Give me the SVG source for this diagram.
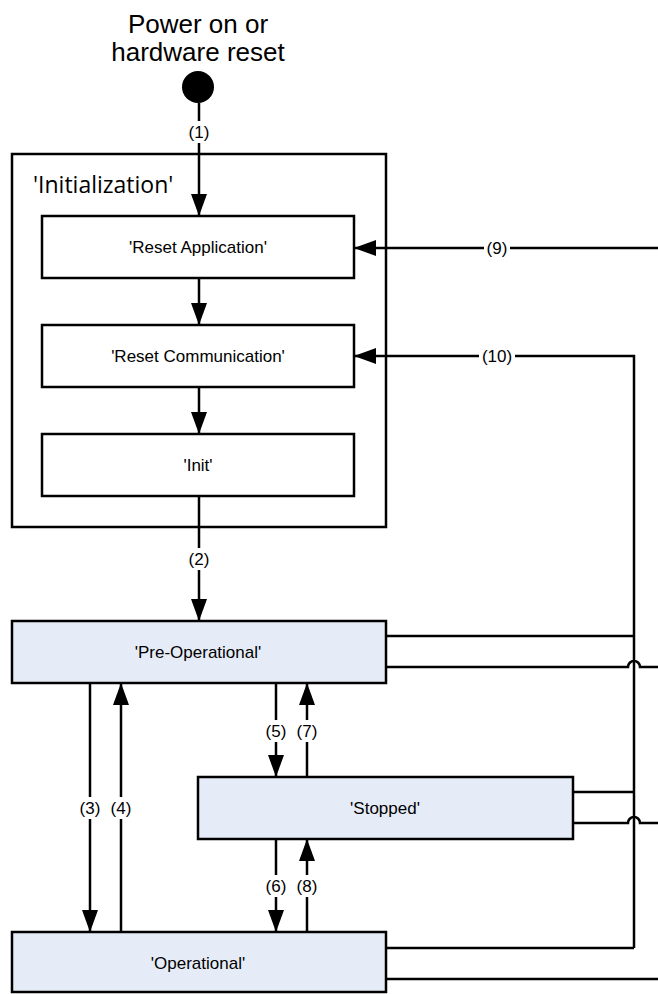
<svg xmlns="http://www.w3.org/2000/svg" width="658" height="994" viewBox="0 0 658 994">
<defs>
<marker id="ah" markerWidth="22" markerHeight="16" refX="22" refY="8" orient="auto" markerUnits="userSpaceOnUse" viewBox="0 0 22 16">
<path d="M0,0 L22,8 L0,16 Z" fill="#000"/>
</marker>
<style>
.box{fill:#fff;stroke:#000;stroke-width:2.5}
.st{fill:#e6ecf7;stroke:#000;stroke-width:2.5}
.ln{fill:none;stroke:#000;stroke-width:2.5}
.lb{font-family:"Liberation Sans",Arial,sans-serif;font-size:17px;text-anchor:middle;fill:#000}
.cl{font-family:"Liberation Sans",Arial,sans-serif;font-size:17px;text-anchor:middle;fill:#000}
.big{font-family:"Liberation Sans",Arial,sans-serif;font-size:26px;text-anchor:middle;fill:#000}
.ttl{font-family:"Open Sans",sans-serif;font-size:23px;fill:#000}
.bg{fill:#fff}
</style>
</defs>
<rect width="658" height="994" fill="#fff"/>
<g id="start">
<text class="big" x="198" y="33">Power on or</text>
<text class="big" x="198" y="61">hardware reset</text>
<circle cx="198" cy="87" r="16" fill="#000"/>
</g>
<g id="initialization">
<rect class="box" x="12" y="154" width="374" height="373"/>
<text class="ttl" x="33" y="193">'Initialization'</text>
</g>
<g id="reset-application">
<rect class="box" x="42" y="216" width="312" height="62"/>
<text class="lb" x="198" y="253">'Reset Application'</text>
</g>
<g id="reset-communication">
<rect class="box" x="42" y="325" width="312" height="62"/>
<text class="lb" x="198" y="362">'Reset Communication'</text>
</g>
<g id="init">
<rect class="box" x="42" y="434" width="312" height="62"/>
<text class="lb" x="198" y="471">'Init'</text>
</g>
<g id="pre-operational">
<rect class="st" x="12" y="621" width="374" height="62"/>
<text class="lb" x="198" y="658">'Pre-Operational'</text>
</g>
<g id="stopped">
<rect class="st" x="198" y="777" width="375" height="62"/>
<text class="lb" x="385" y="814">'Stopped'</text>
</g>
<g id="operational">
<rect class="st" x="12" y="932" width="374" height="60"/>
<text class="lb" x="198" y="969">'Operational'</text>
</g>
<g id="connectors">
<path class="ln" d="M199,103 V216" marker-end="url(#ah)"/>
<path class="ln" d="M199,278 V325" marker-end="url(#ah)"/>
<path class="ln" d="M199,387 V434" marker-end="url(#ah)"/>
<path class="ln" d="M199,496 V621" marker-end="url(#ah)"/>
<path class="ln" d="M90,683 V932" marker-end="url(#ah)"/>
<path class="ln" d="M121,932 V683" marker-end="url(#ah)"/>
<path class="ln" d="M276,683 V777" marker-end="url(#ah)"/>
<path class="ln" d="M307,777 V683" marker-end="url(#ah)"/>
<path class="ln" d="M276,839 V932" marker-end="url(#ah)"/>
<path class="ln" d="M307,932 V839" marker-end="url(#ah)"/>
<path class="ln" d="M658,248 H354" marker-end="url(#ah)"/>
<path class="ln" d="M634,948 V356 H354" marker-end="url(#ah)"/>
<path class="ln" d="M386,636 H634"/>
<path class="ln" d="M573,792 H634"/>
<path class="ln" d="M386,948 H634"/>
<path class="ln" d="M386,667 H628 A6,6 0 0 1 640,667 H658"/>
<path class="ln" d="M573,823 H628 A6,6 0 0 1 640,823 H658"/>
<path class="ln" d="M386,979 H658"/>
<rect class="bg" x="185" y="121" width="28" height="22"/>
<text class="cl" x="199" y="138">(1)</text>
<rect class="bg" x="185" y="548" width="28" height="22"/>
<text class="cl" x="199" y="565">(2)</text>
<rect class="bg" x="77" y="797" width="26" height="22"/>
<text class="cl" x="90" y="814">(3)</text>
<rect class="bg" x="108" y="797" width="26" height="22"/>
<text class="cl" x="121" y="814">(4)</text>
<rect class="bg" x="263" y="720" width="26" height="22"/>
<text class="cl" x="276" y="737">(5)</text>
<rect class="bg" x="294" y="720" width="26" height="22"/>
<text class="cl" x="307" y="737">(7)</text>
<rect class="bg" x="263" y="875" width="26" height="22"/>
<text class="cl" x="276" y="892">(6)</text>
<rect class="bg" x="294" y="875" width="26" height="22"/>
<text class="cl" x="307" y="892">(8)</text>
<rect class="bg" x="484" y="237" width="26" height="22"/>
<text class="cl" x="497" y="254">(9)</text>
<rect class="bg" x="479" y="345" width="36" height="22"/>
<text class="cl" x="497" y="362">(10)</text>
</g>
</svg>
